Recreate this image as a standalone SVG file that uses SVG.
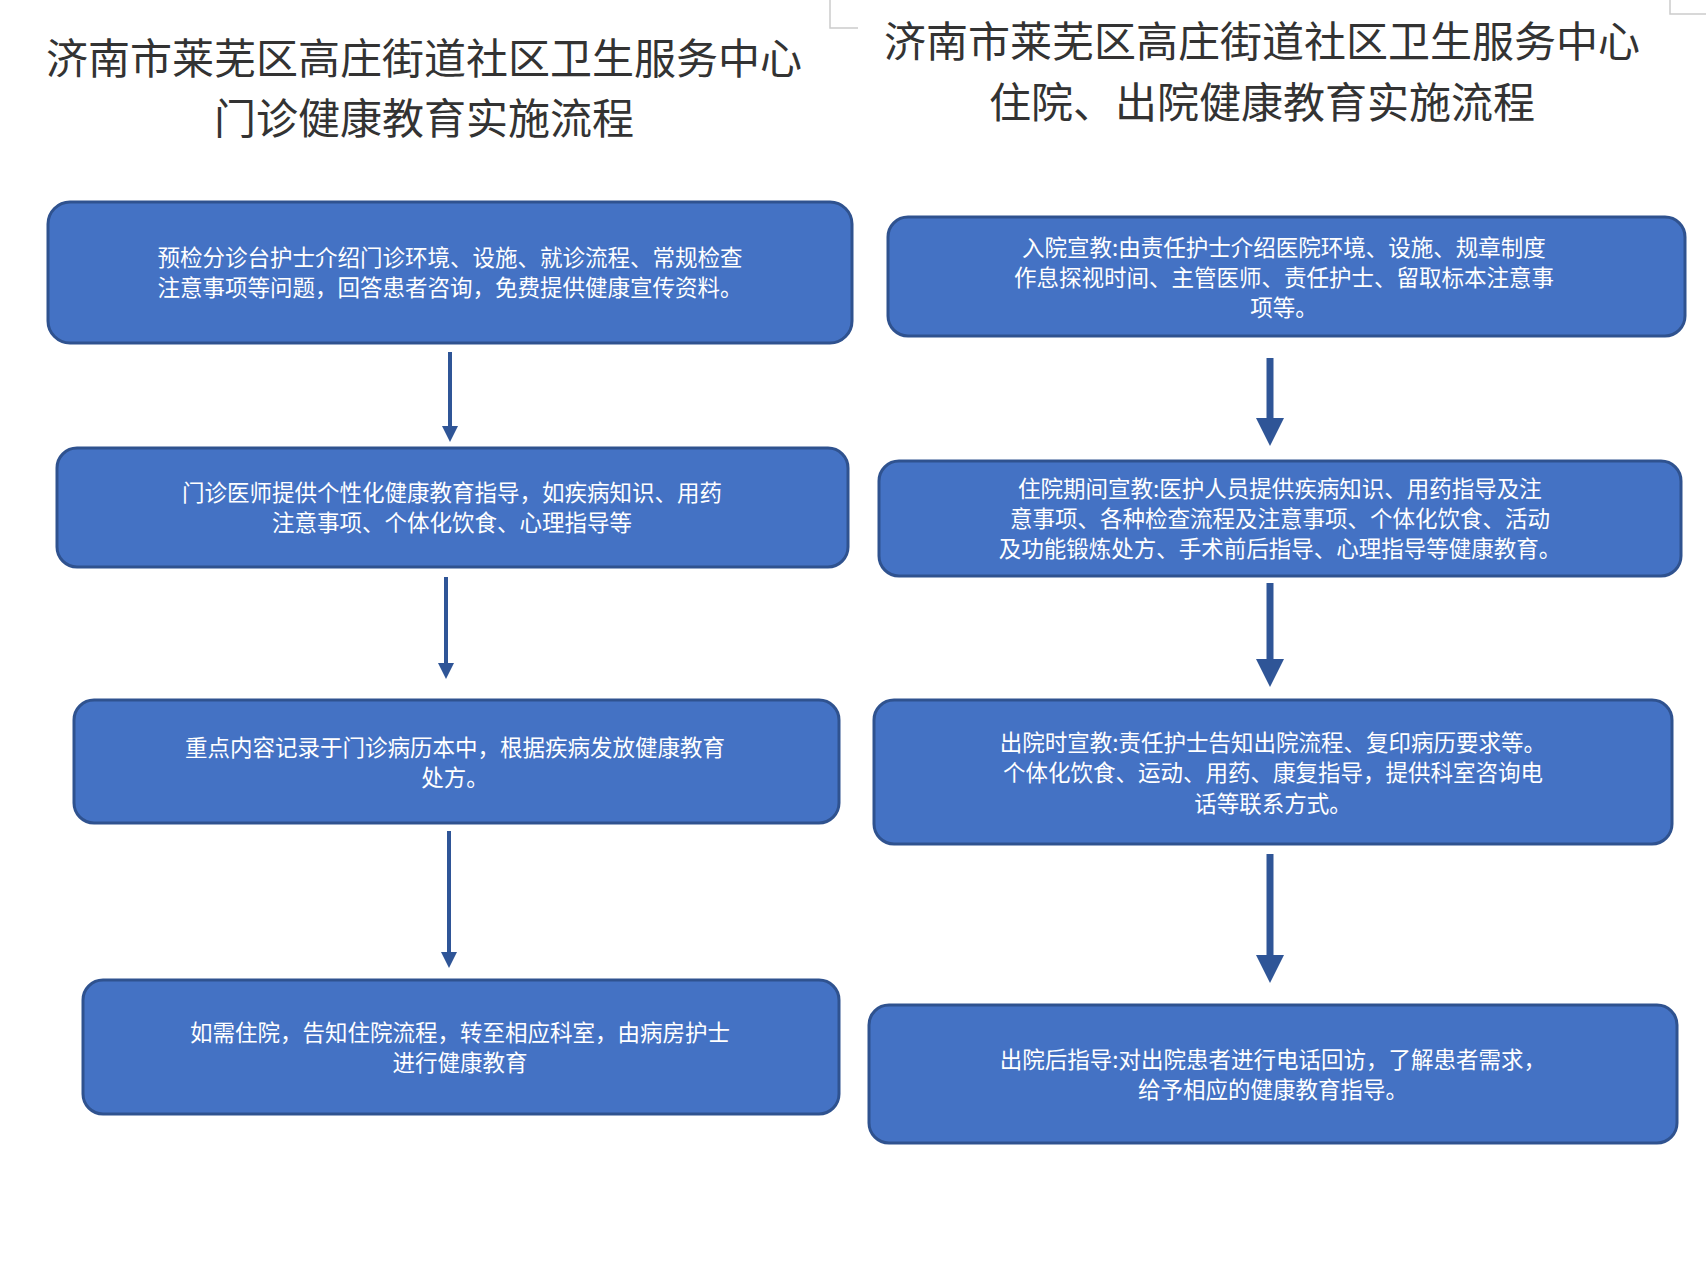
<svg xmlns="http://www.w3.org/2000/svg" width="1706" height="1280" viewBox="0 0 1706 1280">
<style>
.t{font-family:"Noto Sans CJK SC",sans-serif;font-size:42px;fill:#333;text-anchor:middle}
.b{fill:#4472C4;stroke:#2F528F;stroke-width:3}
.l{font-family:"Noto Sans CJK SC",sans-serif;font-size:22.5px;fill:#fff;text-anchor:middle}
.a{stroke:#2F5597;fill:none}
</style>
<defs>
<marker id="h" markerWidth="4" markerHeight="4" refX="2" refY="2" orient="auto" markerUnits="strokeWidth"><path d="M0,0L4,2L0,4z" fill="#2F5597"/></marker>
</defs>
<rect width="1706" height="1280" fill="#fff"/>
<path d="M830,0V28H858M1670,0V14H1706" stroke="#ccc" fill="none" stroke-width="1.5"/>
<text class="t" x="424" y="74">济南市莱芜区高庄街道社区卫生服务中心</text>
<text class="t" x="424" y="134">门诊健康教育实施流程</text>
<text class="t" x="1262" y="57">济南市莱芜区高庄街道社区卫生服务中心</text>
<text class="t" x="1262" y="118">住院、出院健康教育实施流程</text>
<g id="L1"><rect class="b" x="48" y="202" width="804" height="141" rx="22"/><text class="l" x="450" y="266">预检分诊台护士介绍门诊环境、设施、就诊流程、常规检查</text><text class="l" x="450" y="296">注意事项等问题，回答患者咨询，免费提供健康宣传资料。</text></g>
<g id="L2"><rect class="b" x="57" y="448" width="791" height="119" rx="20"/><text class="l" x="452" y="501">门诊医师提供个性化健康教育指导，如疾病知识、用药</text><text class="l" x="452" y="531">注意事项、个体化饮食、心理指导等</text></g>
<g id="L3"><rect class="b" x="74" y="700" width="765" height="123" rx="20"/><text class="l" x="455" y="756">重点内容记录于门诊病历本中，根据疾病发放健康教育</text><text class="l" x="455" y="786">处方。</text></g>
<g id="L4"><rect class="b" x="83" y="980" width="756" height="134" rx="20"/><text class="l" x="460" y="1041">如需住院，告知住院流程，转至相应科室，由病房护士</text><text class="l" x="460" y="1071">进行健康教育</text></g>
<g id="R1"><rect class="b" x="888" y="217" width="797" height="119" rx="20"/><text class="l" x="1284" y="256">入院宣教:由责任护士介绍医院环境、设施、规章制度</text><text class="l" x="1284" y="286">作息探视时间、主管医师、责任护士、留取标本注意事</text><text class="l" x="1284" y="316">项等。</text></g>
<g id="R2"><rect class="b" x="879" y="461" width="802" height="115" rx="20"/><text class="l" x="1280" y="497">住院期间宣教:医护人员提供疾病知识、用药指导及注</text><text class="l" x="1280" y="527">意事项、各种检查流程及注意事项、个体化饮食、活动</text><text class="l" x="1280" y="557">及功能锻炼处方、手术前后指导、心理指导等健康教育。</text></g>
<g id="R3"><rect class="b" x="874" y="700" width="798" height="144" rx="20"/><text class="l" x="1273" y="751">出院时宣教:责任护士告知出院流程、复印病历要求等。</text><text class="l" x="1273" y="781">个体化饮食、运动、用药、康复指导，提供科室咨询电</text><text class="l" x="1273" y="812">话等联系方式。</text></g>
<g id="R4"><rect class="b" x="869" y="1005" width="808" height="138" rx="20"/><text class="l" x="1273" y="1068">出院后指导:对出院患者进行电话回访，了解患者需求，</text><text class="l" x="1273" y="1098">给予相应的健康教育指导。</text></g>
<g id="connectors">
<line class="a" x1="450" y1="352" x2="450" y2="434" stroke-width="4" marker-end="url(#h)"/>
<line class="a" x1="446" y1="577" x2="446" y2="671" stroke-width="4" marker-end="url(#h)"/>
<line class="a" x1="449" y1="831" x2="449" y2="960" stroke-width="4" marker-end="url(#h)"/>
<line class="a" x1="1270" y1="358" x2="1270" y2="432" stroke-width="7" marker-end="url(#h)"/>
<line class="a" x1="1270" y1="583" x2="1270" y2="673" stroke-width="7" marker-end="url(#h)"/>
<line class="a" x1="1270" y1="854" x2="1270" y2="969" stroke-width="7" marker-end="url(#h)"/>
</g>
</svg>
